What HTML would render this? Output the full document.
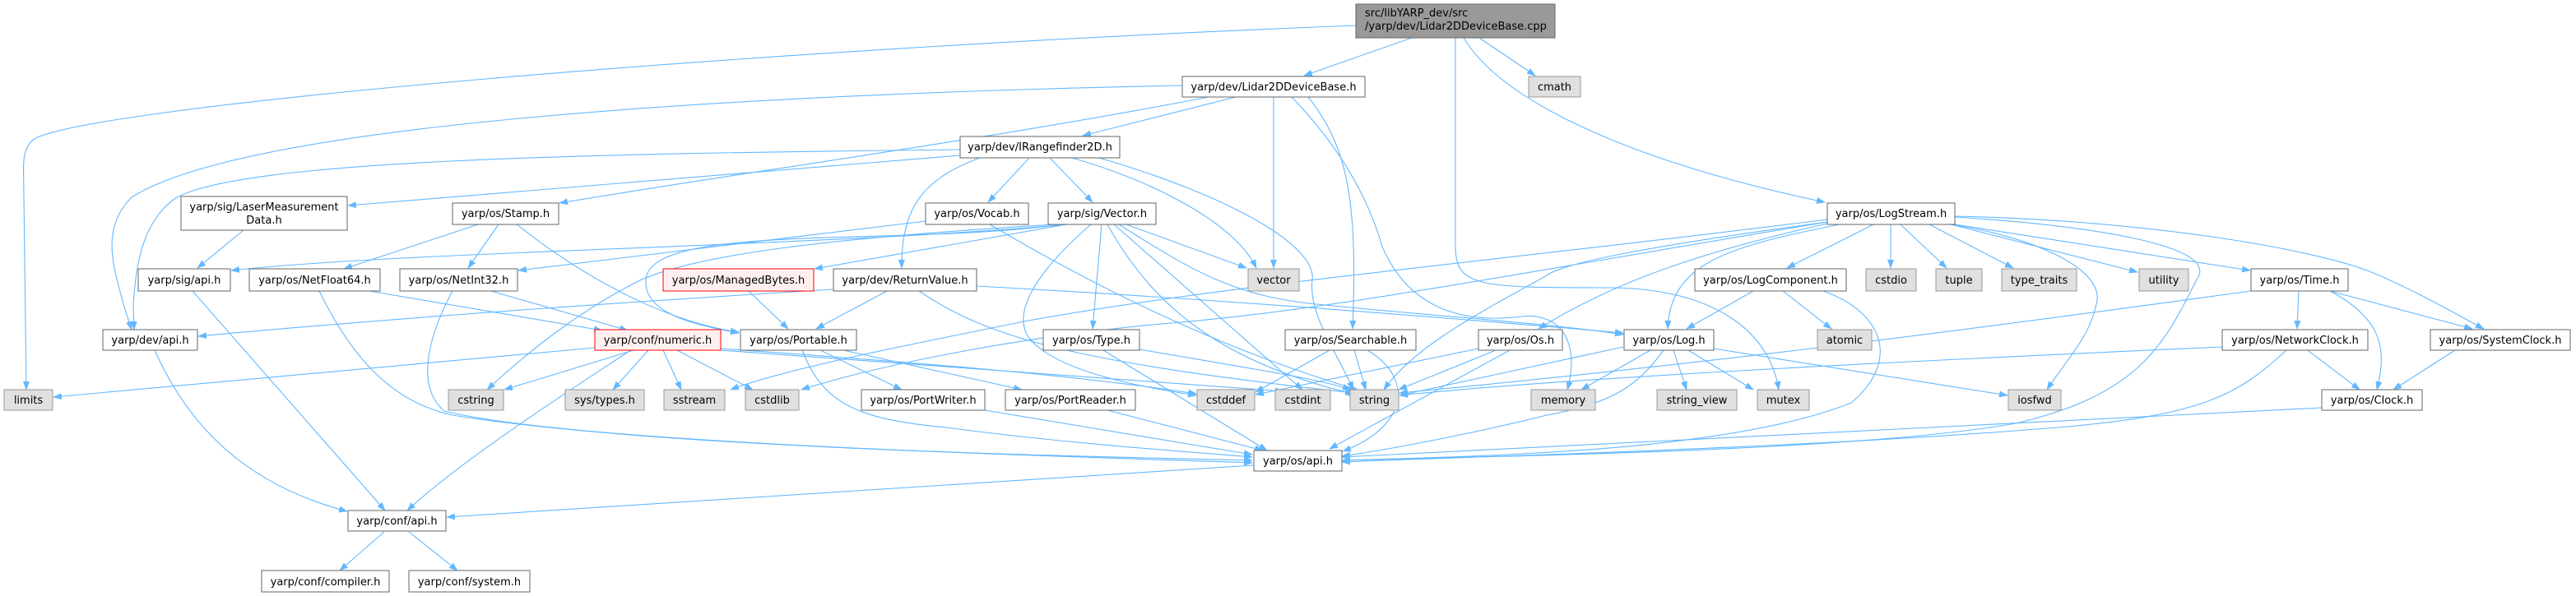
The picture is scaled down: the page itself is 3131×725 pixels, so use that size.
<!DOCTYPE html>
<html><head><meta charset="utf-8"><style>
html,body{margin:0;padding:0;background:#fff}
svg{display:block}
text{font-family:"DejaVu Sans","Liberation Sans",sans-serif;font-size:13px;fill:#000}
.e{fill:none;stroke:#63b8ff;stroke-width:1.1}
.n{fill:#fff;stroke:#666;stroke-width:1}
.g{fill:#e0e0e0;stroke:#999;stroke-width:1}
.r{fill:#fff0f0;stroke:#f00;stroke-width:1}
</style></head><body>
<svg width="3131" height="725" viewBox="0 0 3131 725" xmlns="http://www.w3.org/2000/svg">
<defs><marker id="a" markerWidth="11" markerHeight="8" refX="10" refY="4" orient="auto" markerUnits="userSpaceOnUse"><path d="M0,0 L11,4 L0,8 z" fill="#63b8ff"/></marker></defs>
<g class="e" marker-end="url(#a)">
<!-- cpp -->
<path d="M1648,31 C900,60 100,130 40,170 C25,185 29,200 29,240 L32,474"/>
<path d="M1716,46 L1585,92"/>
<path d="M1798,46 L1866,92"/>
<path d="M1779,46 C1830,130 2000,200 2218,246"/>
<path d="M1769,46 L1769,300 C1769,350 1800,350 1960,350 C2080,352 2150,400 2162,474"/>
<!-- Lidar2DDeviceBase.h -->
<path d="M1437,104 C900,115 300,150 160,240 C120,280 140,330 150,370 L160,401"/>
<path d="M1502,118 L1316,165"/>
<path d="M1469,118 C1200,170 900,210 680,247"/>
<path d="M1548,118 L1548,326"/>
<path d="M1590,118 C1640,180 1650,250 1644,400"/>
<path d="M1570,118 C1620,170 1660,230 1680,300 C1710,370 1770,395 1850,385 C1900,380 1920,420 1905,474"/>
<!-- IRangefinder2D.h -->
<path d="M1167,189 L423,250"/>
<path d="M1167,182 C700,187 300,195 215,240 C170,270 165,330 162,370 L163,401"/>
<path d="M1251,192 L1201,246"/>
<path d="M1276,192 L1328,246"/>
<path d="M1191,192 C1130,215 1095,245 1096,326"/>
<path d="M1303,192 C1400,220 1500,270 1527,326"/>
<path d="M1336,192 C1500,240 1600,300 1595,340 C1590,380 1620,420 1645,474"/>
<!-- Stamp.h -->
<path d="M581,273 L418,327"/>
<path d="M606,273 L569,326"/>
<path d="M628,273 C700,330 800,390 898,404"/>
<!-- Vocab.h -->
<path d="M1125,269 L630,329"/>
<path d="M1203,273 C1350,360 1500,430 1650,474"/>
<!-- Vector.h -->
<path d="M1298,273 C1000,300 500,305 281,329"/>
<path d="M1296,273 L990,327"/>
<path d="M1290,273 C1100,300 790,270 785,340 C782,380 840,395 898,405"/>
<path d="M1282,273 C1000,290 850,310 780,340 C700,380 640,430 592,474"/>
<path d="M1369,273 L1515,326"/>
<path d="M1339,273 L1328,400"/>
<path d="M1326,273 C1260,330 1230,380 1250,410 C1280,450 1380,470 1454,481"/>
<path d="M1346,273 C1400,370 1480,440 1648,480"/>
<path d="M1354,273 L1583,474"/>
<path d="M1360,273 C1450,330 1500,360 1600,370 C1750,385 1900,395 1973,407"/>
<!-- ReturnValue.h -->
<path d="M1078,354 L992,400"/>
<path d="M1013,352 C800,365 500,385 241,409"/>
<path d="M1117,354 C1200,410 1300,440 1645,478"/>
<path d="M1187,348 C1500,365 1800,390 1973,405"/>
<!-- ManagedBytes -->
<path d="M910,354 L958,400"/>
<!-- NetFloat64 -->
<path d="M449,354 L732,402"/>
<path d="M388,354 C430,440 480,490 550,505 C800,545 1300,555 1522,560"/>
<!-- NetInt32 -->
<path d="M597,354 L763,402"/>
<path d="M550,354 C520,410 505,470 540,500 C700,540 1300,555 1522,563"/>
<!-- sig/api -->
<path d="M234,354 L468,621"/>
<path d="M296,280 L240,326"/>
<path d="M188,426 C230,520 300,590 422,622"/>
<!-- numeric.h -->
<path d="M723,423 L65,483"/>
<path d="M770,426 L613,474"/>
<path d="M788,426 L745,474"/>
<path d="M765,427 C700,470 560,560 495,621"/>
<path d="M806,426 L828,474"/>
<path d="M823,426 L915,474"/>
<path d="M876,424 C1100,440 1300,455 1454,479"/>
<path d="M876,426 C1150,445 1400,465 1560,476"/>
<!-- Portable.h -->
<path d="M997,426 L1096,474"/>
<path d="M1025,426 L1242,474"/>
<path d="M975,426 C1000,490 1040,510 1150,520 C1300,540 1450,550 1522,556"/>
<!-- Port writer/reader/type -->
<path d="M1197,499 L1522,553"/>
<path d="M1346,499 L1535,548"/>
<path d="M1341,426 L1540,548"/>
<path d="M1385,425 C1500,445 1600,460 1642,474"/>
<!-- Searchable -->
<path d="M1646,426 L1660,474"/>
<path d="M1662,426 C1720,460 1710,520 1632,549"/>
<path d="M1616,426 L1526,477"/>
<!-- Os.h -->
<path d="M1818,426 L1700,474"/>
<path d="M1835,426 L1616,546"/>
<path d="M1797,424 L1526,480"/>
<!-- Log.h -->
<path d="M2006,426 L1922,474"/>
<path d="M2034,426 L2050,474"/>
<path d="M2052,426 L2131,474"/>
<path d="M2022,426 C1990,470 1960,490 1880,505 C1800,525 1700,545 1631,555"/>
<path d="M2083,424 L2440,481"/>
<path d="M1973,422 L1701,481"/>
<!-- LogComponent -->
<path d="M2131,354 L2050,400"/>
<path d="M2167,354 L2226,400"/>
<path d="M2216,354 C2290,380 2310,440 2250,490 C2100,550 1800,555 1631,560"/>
<!-- LogStream -->
<path d="M2277,273 L2172,326"/>
<path d="M2298,273 L2298,326"/>
<path d="M2310,273 L2366,326"/>
<path d="M2345,273 L2447,326"/>
<path d="M2371,273 L2598,331"/>
<path d="M2376,273 L2735,329"/>
<path d="M2376,263 C2600,268 2800,300 2880,330 C2940,355 2990,385 3019,400"/>
<path d="M2371,273 C2480,290 2560,330 2548,370 C2540,410 2510,440 2488,474"/>
<path d="M2376,264 C2550,275 2700,300 2670,340 C2630,420 2600,480 2450,515 C2250,550 1800,555 1631,560"/>
<path d="M2221,270 C2000,300 1900,320 1880,335 C1800,380 1720,420 1682,474"/>
<path d="M2221,272 C2050,310 1950,350 1870,400"/>
<path d="M2236,273 C2100,300 2030,320 2027,400"/>
<path d="M2221,267 C1800,320 1500,345 1250,390 C1100,420 950,450 888,474"/>
<path d="M2221,270 C1800,340 1600,380 1400,395 C1200,415 1050,450 974,474"/>
<!-- Time.h -->
<path d="M2794,354 L2792,400"/>
<path d="M2832,354 C2900,390 2900,430 2889,474"/>
<path d="M2832,354 L3005,400"/>
<path d="M2736,354 C2400,400 2100,440 1701,478"/>
<!-- NetworkClock -->
<path d="M2805,426 L2868,474"/>
<path d="M2779,426 C2720,480 2680,505 2500,520 C2200,545 1800,555 1631,562"/>
<path d="M2701,422 C2300,440 1900,460 1701,481"/>
<!-- SystemClock / Clock -->
<path d="M2984,426 L2909,474"/>
<path d="M2822,496 L1631,556"/>
<!-- os/api -> conf/api -->
<path d="M1523,566 L543,629"/>
<path d="M467,647 L413,694"/>
<path d="M497,647 L556,694"/>
</g>
<!-- nodes -->
<rect class="n" x="1648" y="5" width="242" height="41" style="fill:#999;stroke:#666"/>
<text x="1659" y="20">src/libYARP_dev/src</text><text x="1659" y="36">/yarp/dev/Lidar2DDeviceBase.cpp</text>
<rect class="g" x="1858" y="93" width="63" height="25"/><text x="1889.5" y="110" text-anchor="middle">cmath</text>
<rect class="n" x="1437" y="93" width="222" height="25"/><text x="1548" y="110" text-anchor="middle">yarp/dev/Lidar2DDeviceBase.h</text>
<rect class="n" x="1167" y="166" width="194" height="26"/><text x="1264" y="183" text-anchor="middle">yarp/dev/IRangefinder2D.h</text>
<rect class="n" x="220" y="239" width="202" height="41"/><text x="321" y="256" text-anchor="middle">yarp/sig/LaserMeasurement</text><text x="321" y="272" text-anchor="middle">Data.h</text>
<rect class="n" x="550" y="247" width="129" height="26"/><text x="614.5" y="264" text-anchor="middle">yarp/os/Stamp.h</text>
<rect class="n" x="1125" y="247" width="125" height="26"/><text x="1187.5" y="264" text-anchor="middle">yarp/os/Vocab.h</text>
<rect class="n" x="1274" y="247" width="131" height="26"/><text x="1339.5" y="264" text-anchor="middle">yarp/sig/Vector.h</text>
<rect class="n" x="2221" y="247" width="155" height="26"/><text x="2298.5" y="264" text-anchor="middle">yarp/os/LogStream.h</text>
<rect class="n" x="168" y="327" width="112" height="27"/><text x="224" y="345" text-anchor="middle">yarp/sig/api.h</text>
<rect class="n" x="303" y="327" width="159" height="27"/><text x="382.5" y="345" text-anchor="middle">yarp/os/NetFloat64.h</text>
<rect class="n" x="486" y="327" width="143" height="27"/><text x="557.5" y="345" text-anchor="middle">yarp/os/NetInt32.h</text>
<rect class="r" x="806" y="327" width="183" height="27"/><text x="897.5" y="345" text-anchor="middle">yarp/os/ManagedBytes.h</text>
<rect class="n" x="1013" y="327" width="174" height="27"/><text x="1100" y="345" text-anchor="middle">yarp/dev/ReturnValue.h</text>
<rect class="g" x="1517" y="327" width="62" height="27"/><text x="1548" y="345" text-anchor="middle">vector</text>
<rect class="n" x="2060" y="327" width="184" height="27"/><text x="2152" y="345" text-anchor="middle">yarp/os/LogComponent.h</text>
<rect class="g" x="2268" y="327" width="61" height="27"/><text x="2298.5" y="345" text-anchor="middle">cstdio</text>
<rect class="g" x="2353" y="327" width="56" height="27"/><text x="2381" y="345" text-anchor="middle">tuple</text>
<rect class="g" x="2433" y="327" width="91" height="27"/><text x="2478.5" y="345" text-anchor="middle">type_traits</text>
<rect class="g" x="2600" y="327" width="60" height="27"/><text x="2630" y="345" text-anchor="middle">utility</text>
<rect class="n" x="2736" y="327" width="118" height="27"/><text x="2795" y="345" text-anchor="middle">yarp/os/Time.h</text>
<rect class="n" x="125" y="401" width="115" height="25"/><text x="182.5" y="418" text-anchor="middle">yarp/dev/api.h</text>
<rect class="r" x="723" y="401" width="153" height="25"/><text x="799.5" y="418" text-anchor="middle">yarp/conf/numeric.h</text>
<rect class="n" x="900" y="401" width="141" height="25"/><text x="970.5" y="418" text-anchor="middle">yarp/os/Portable.h</text>
<rect class="n" x="1268" y="401" width="117" height="25"/><text x="1326.5" y="418" text-anchor="middle">yarp/os/Type.h</text>
<rect class="n" x="1562" y="401" width="159" height="25"/><text x="1641.5" y="418" text-anchor="middle">yarp/os/Searchable.h</text>
<rect class="n" x="1797" y="401" width="102" height="25"/><text x="1848" y="418" text-anchor="middle">yarp/os/Os.h</text>
<rect class="n" x="1974" y="401" width="109" height="25"/><text x="2028.5" y="418" text-anchor="middle">yarp/os/Log.h</text>
<rect class="g" x="2209" y="401" width="66" height="25"/><text x="2242" y="418" text-anchor="middle">atomic</text>
<rect class="n" x="2701" y="401" width="177" height="25"/><text x="2789.5" y="418" text-anchor="middle">yarp/os/NetworkClock.h</text>
<rect class="n" x="2954" y="401" width="170" height="25"/><text x="3039" y="418" text-anchor="middle">yarp/os/SystemClock.h</text>
<rect class="g" x="5" y="474" width="59" height="25"/><text x="34.5" y="491" text-anchor="middle">limits</text>
<rect class="g" x="545" y="474" width="67" height="25"/><text x="578.5" y="491" text-anchor="middle">cstring</text>
<rect class="g" x="687" y="474" width="96" height="25"/><text x="735" y="491" text-anchor="middle">sys/types.h</text>
<rect class="g" x="807" y="474" width="74" height="25"/><text x="844" y="491" text-anchor="middle">sstream</text>
<rect class="g" x="906" y="474" width="65" height="25"/><text x="938.5" y="491" text-anchor="middle">cstdlib</text>
<rect class="n" x="1047" y="474" width="150" height="25"/><text x="1122" y="491" text-anchor="middle">yarp/os/PortWriter.h</text>
<rect class="n" x="1222" y="474" width="158" height="25"/><text x="1301" y="491" text-anchor="middle">yarp/os/PortReader.h</text>
<rect class="g" x="1455" y="474" width="70" height="25"/><text x="1490" y="491" text-anchor="middle">cstddef</text>
<rect class="g" x="1550" y="474" width="67" height="25"/><text x="1583.5" y="491" text-anchor="middle">cstdint</text>
<rect class="g" x="1641" y="474" width="59" height="25"/><text x="1670.5" y="491" text-anchor="middle">string</text>
<rect class="g" x="1861" y="474" width="78" height="25"/><text x="1900" y="491" text-anchor="middle">memory</text>
<rect class="g" x="2014" y="474" width="97" height="25"/><text x="2062.5" y="491" text-anchor="middle">string_view</text>
<rect class="g" x="2136" y="474" width="63" height="25"/><text x="2167.5" y="491" text-anchor="middle">mutex</text>
<rect class="g" x="2441" y="474" width="64" height="25"/><text x="2473" y="491" text-anchor="middle">iosfwd</text>
<rect class="n" x="2822" y="474" width="122" height="25"/><text x="2883" y="491" text-anchor="middle">yarp/os/Clock.h</text>
<rect class="n" x="1524" y="548" width="107" height="25"/><text x="1577.5" y="565" text-anchor="middle">yarp/os/api.h</text>
<rect class="n" x="423" y="621" width="119" height="25"/><text x="482.5" y="638" text-anchor="middle">yarp/conf/api.h</text>
<rect class="n" x="318" y="694" width="155" height="26"/><text x="395.5" y="712" text-anchor="middle">yarp/conf/compiler.h</text>
<rect class="n" x="497" y="694" width="147" height="26"/><text x="570.5" y="712" text-anchor="middle">yarp/conf/system.h</text>
</svg>
</body></html>
